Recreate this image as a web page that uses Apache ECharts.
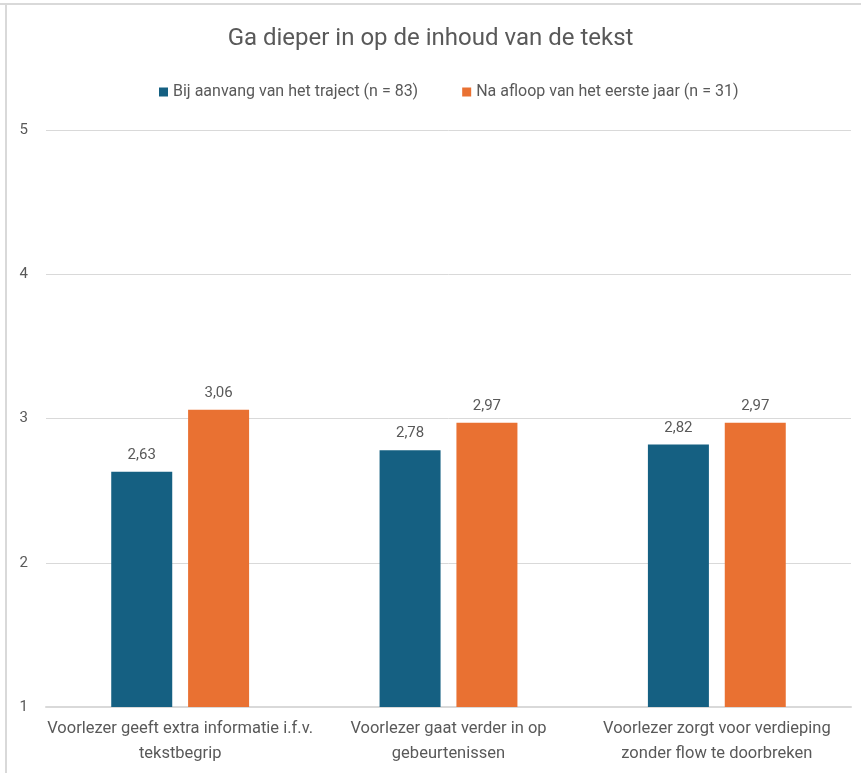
<!DOCTYPE html>
<html>
<head>
<meta charset="utf-8">
<title>Ga dieper in op de inhoud van de tekst</title>
<script src="https://cdn.jsdelivr.net/npm/echarts@6/dist/echarts.min.js"></script>
<style>
  html, body { margin: 0; padding: 0; background: #fff; }
  #main { width: 861px; height: 773px; }
</style>
</head>
<body>
<div id="main"></div>
<script>
// categorieën en waarden
const categories = [
  "Voorlezer geeft extra informatie i.f.v.\ntekstbegrip",
  "Voorlezer gaat verder in op\ngebeurtenissen",
  "Voorlezer zorgt voor verdieping\nzonder flow te doorbreken"
];
const startValues = [2.63, 2.78, 2.82];
const endValues = [3.06, 2.97, 2.97];
const seriesNames = ["Bij aanvang van het traject (n = 83)", "Na afloop van het eerste jaar (n = 31)"];
const yTicks = [1, 2, 3, 4, 5];

const textColor = "#595959";
const fontFamily = "Roboto, 'Liberation Sans', sans-serif";

const chart = echarts.init(document.getElementById("main"));

const label = {
  show: true,
  position: "top",
  distance: 9,
  color: textColor,
  fontSize: 15,
  fontFamily: fontFamily,
  formatter: p => p.value.toFixed(2).replace(".", ",")
};

chart.setOption({
  animation: false,
  backgroundColor: "#fff",
  title: {
    text: "Ga dieper in op de inhoud van de tekst",
    left: "center",
    top: 22,
    textStyle: { color: textColor, fontSize: 24, fontWeight: "normal", fontFamily: fontFamily }
  },
  legend: {
    top: 79,
    left: 154,
    itemWidth: 9,
    itemHeight: 9,
    itemGap: 44,
    icon: "rect",
    textStyle: { color: textColor, fontSize: 16, fontFamily: fontFamily },
    data: seriesNames
  },
  grid: { left: 46, right: 10, top: 130, bottom: 66, containLabel: false },
  xAxis: {
    type: "category",
    data: categories,
    axisLine: { show: true, lineStyle: { color: "#d9d9d9", width: 2 } },
    axisTick: { show: false },
    axisLabel: { color: textColor, fontSize: 16.5, fontFamily: fontFamily, lineHeight: 25, margin: 9, interval: 0 }
  },
  yAxis: {
    type: "value",
    min: yTicks[0],
    max: yTicks[yTicks.length - 1],
    interval: 1,
    axisLine: { show: false },
    axisTick: { show: false },
    axisLabel: { color: textColor, fontSize: 15, fontFamily: fontFamily, margin: 18 },
    splitLine: { lineStyle: { color: "#d9d9d9", width: 1 } }
  },
  series: [
    {
      name: seriesNames[0],
      type: "bar",
      data: startValues,
      barWidth: 61,
      barGap: "26%",
      itemStyle: { color: "#156082" },
      label: label
    },
    {
      name: seriesNames[1],
      type: "bar",
      data: endValues,
      barWidth: 61,
      itemStyle: { color: "#E97132" },
      label: label
    }
  ],
  graphic: [
    { type: "rect", shape: { x: 0, y: 3, width: 861, height: 2 }, style: { fill: "#d9d9d9" } },
    { type: "rect", shape: { x: 5, y: 3, width: 2, height: 770 }, style: { fill: "#d9d9d9" } }
  ]
});
</script>
</body>
</html>
